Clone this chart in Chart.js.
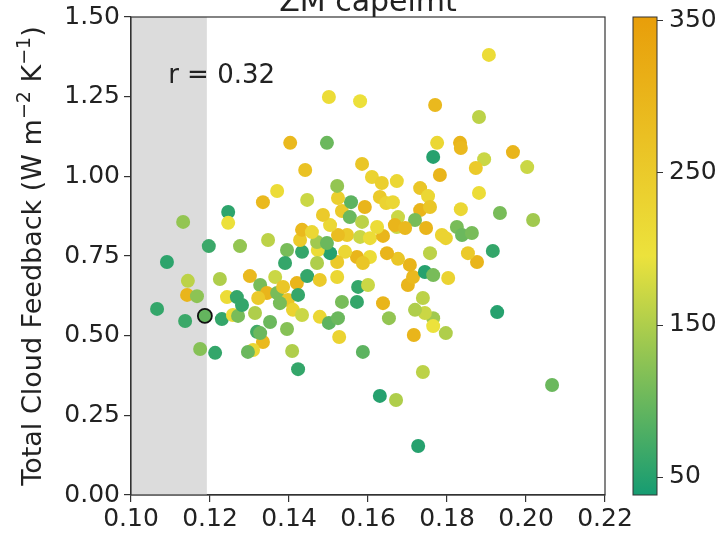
<!DOCTYPE html>
<html>
<head>
<meta charset="utf-8">
<script src="https://cdn.jsdelivr.net/npm/chart.js@4.4.0/dist/chart.umd.min.js"></script>
<style>
  body { margin: 0; background: #fff; }
  canvas { display: block; }
</style>
</head>
<body>
<canvas id="capelmtChart" width="725" height="536"></canvas>
<script>
// scatter values (x, total cloud feedback, colour value)
var xVals = [0.1066, 0.1091, 0.1132, 0.1144, 0.1142, 0.1167, 0.1137, 0.1175, 0.1213, 0.1197,
  0.1246, 0.1246, 0.1225, 0.1230, 0.1258, 0.1271, 0.1243, 0.1268, 0.1281, 0.1276,
  0.1301, 0.1314, 0.1327, 0.1344, 0.1370, 0.1365, 0.1385, 0.1420, 0.1322, 0.1397,
  0.1423, 0.1377, 0.1410, 0.1433, 0.1478, 0.1501, 0.1524, 0.1534, 0.1572, 0.1575,
  0.1600, 0.1638, 0.1653, 0.1352, 0.1395, 0.1319, 0.1334, 0.1309, 0.1296, 0.1327,
  0.1408, 0.1423, 0.1527, 0.1587, 0.1630, 0.1671, 0.1727, 0.2066, 0.1927, 0.1739,
  0.1716, 0.1797, 0.1765, 0.1765, 0.1744, 0.1719, 0.1739, 0.1701, 0.1714, 0.1706,
  0.1744, 0.1765, 0.1803, 0.1876, 0.1853, 0.1916, 0.1757, 0.1676, 0.1648, 0.1605,
  0.1572, 0.1587, 0.1542, 0.1522, 0.1504, 0.1473, 0.1471, 0.1433, 0.1395, 0.1390,
  0.1446, 0.1478, 0.1522, 0.1347, 0.1428, 0.1471, 0.1496, 0.1547, 0.1524, 0.1580,
  0.1605, 0.1638, 0.1673, 0.1433, 0.1458, 0.1504, 0.1486, 0.1534, 0.1554, 0.1585,
  0.1557, 0.1524, 0.1592, 0.1630, 0.1646, 0.1610, 0.1635, 0.1673, 0.1522, 0.1446,
  0.1370, 0.1334, 0.1441, 0.1585, 0.1403, 0.1496, 0.1501, 0.1580, 0.1770, 0.1881,
  0.1906, 0.1775, 0.1833, 0.1835, 0.1967, 0.1765, 0.1894, 0.1873, 0.2003, 0.1782,
  0.1732, 0.1752, 0.1881, 0.1663, 0.1732, 0.1757, 0.1676, 0.1719, 0.1835, 0.1934,
  0.2018, 0.1668, 0.1694, 0.1747, 0.1825, 0.1838, 0.1863, 0.1787, 0.1797, 0.1623];
var yVals = [0.584, 0.731, 0.857, 0.672, 0.628, 0.624, 0.546, 0.458, 0.446, 0.781,
  0.888, 0.854, 0.678, 0.552, 0.565, 0.562, 0.621, 0.621, 0.596, 0.781,
  0.687, 0.571, 0.659, 0.634, 0.634, 0.684, 0.653, 0.665, 0.618, 0.612,
  0.628, 0.602, 0.581, 0.565, 0.559, 0.540, 0.555, 0.606, 0.606, 0.653,
  0.659, 0.602, 0.555, 0.543, 0.521, 0.512, 0.480, 0.455, 0.449, 0.508,
  0.452, 0.395, 0.496, 0.449, 0.311, 0.298, 0.154, 0.345, 0.574, 0.386,
  0.502, 0.508, 0.555, 0.530, 0.571, 0.581, 0.618, 0.659, 0.684, 0.722,
  0.700, 0.690, 0.681, 0.731, 0.759, 0.766, 0.759, 0.741, 0.759, 0.747,
  0.747, 0.728, 0.763, 0.731, 0.759, 0.769, 0.728, 0.763, 0.769, 0.728,
  0.687, 0.675, 0.684, 0.800, 0.800, 0.794, 0.791, 0.816, 0.816, 0.810,
  0.806, 0.813, 0.841, 0.832, 0.825, 0.847, 0.879, 0.891, 0.872, 0.857,
  0.919, 0.932, 0.904, 0.935, 0.916, 0.998, 0.979, 0.985, 0.970, 0.926,
  0.954, 0.919, 1.020, 1.039, 1.105, 1.105, 1.249, 1.236, 1.224, 1.186,
  1.381, 1.105, 1.105, 1.089, 1.076, 1.061, 1.054, 1.026, 1.029, 1.004,
  0.963, 0.938, 0.948, 0.919, 0.894, 0.904, 0.872, 0.863, 0.897, 0.885,
  0.863, 0.847, 0.838, 0.838, 0.841, 0.816, 0.822, 0.816, 0.806, 0.841];
var cVals = [60, 55, 130, 160, 300, 125, 65, 120, 60, 65,
  55, 200, 150, 60, 210, 110, 210, 60, 60, 130,
  290, 150, 110, 300, 110, 170, 260, 300, 250, 260,
  60, 110, 230, 170, 220, 90, 100, 110, 60, 60,
  170, 300, 130, 100, 120, 70, 290, 220, 100, 100,
  150, 60, 230, 90, 50, 150, 50, 100, 50, 160,
  300, 150, 140, 195, 170, 150, 160, 300, 290, 300,
  50, 110, 230, 300, 250, 60, 160, 260, 300, 210,
  300, 260, 220, 250, 50, 210, 150, 60, 110, 60,
  60, 250, 220, 160, 250, 140, 100, 250, 280, 170,
  210, 300, 170, 290, 220, 220, 250, 250, 100, 160,
  90, 240, 300, 250, 230, 230, 240, 220, 130, 170,
  210, 290, 270, 260, 290, 100, 210, 200, 290, 160,
  210, 220, 300, 290, 300, 50, 170, 250, 170, 300,
  260, 220, 210, 220, 300, 260, 170, 110, 220, 110,
  140, 300, 290, 300, 110, 100, 110, 230, 230, 210];

// the circled model
var markedX = [0.1187];
var markedY = [0.562];
var markedC = [95];

var xTicks = [0.10, 0.12, 0.14, 0.16, 0.18, 0.20, 0.22];
var yTicks = [0.00, 0.25, 0.50, 0.75, 1.00, 1.25, 1.50];
var cbarTicks = [50, 150, 250, 350];
var cMin = 38, cMax = 352;
var shadeMax = 0.1192;
var rText = 'r = 0.32';
var rPos = [0.1094, 1.293];
var titleText = 'ZM capelmt';
// y label pieces: [text, superscript?]
var yLabelParts = [['Total Cloud Feedback (W m', false], ['\u22122', true], [' K', false], ['\u22121', true], [')', false]];

var font = 'DejaVu Sans';
var textColor = '#222';

// green -> yellow -> orange colour map
var cmapStops = [[0, [22, 156, 114]], [0.5, [236, 226, 60]], [1, [232, 158, 10]]];
function cmap(v) {
  var t = (v - cMin) / (cMax - cMin);
  t = Math.max(0, Math.min(1, t));
  var a = t <= 0.5 ? cmapStops[0] : cmapStops[1];
  var b = t <= 0.5 ? cmapStops[1] : cmapStops[2];
  var f = (t - a[0]) / (b[0] - a[0]);
  var rgb = a[1].map(function(c, i) { return Math.round(c + (b[1][i] - c) * f); });
  return 'rgb(' + rgb.join(',') + ')';
}

var points = xVals.map(function(x, i) { return {x: x, y: yVals[i]}; });
var marked = markedX.map(function(x, i) { return {x: x, y: markedY[i]}; });

var decorations = {
  id: 'decorations',
  beforeDatasetsDraw: function(chart) {
    var ctx = chart.ctx, a = chart.chartArea, xs = chart.scales.x;
    ctx.save();
    ctx.fillStyle = '#dcdcdc';
    var x0 = xs.getPixelForValue(xs.min);
    var x1 = xs.getPixelForValue(shadeMax);
    ctx.fillRect(x0, a.top, x1 - x0, a.bottom - a.top);
    ctx.restore();
  },
  afterDatasetsDraw: function(chart) {
    var ctx = chart.ctx, a = chart.chartArea;
    var xs = chart.scales.x, ys = chart.scales.y, cb = chart.scales.cbar;
    ctx.save();
    // box round the axes
    ctx.strokeStyle = '#333';
    ctx.lineWidth = 1.2;
    ctx.strokeRect(a.left, a.top, a.right - a.left, a.bottom - a.top);

    // correlation text
    ctx.fillStyle = textColor;
    ctx.font = '26px "' + font + '"';
    ctx.textAlign = 'left';
    ctx.textBaseline = 'alphabetic';
    ctx.fillText(rText, xs.getPixelForValue(rPos[0]), ys.getPixelForValue(rPos[1]));

    // title, cut off at the top like the original
    ctx.font = '30px "' + font + '"';
    ctx.textAlign = 'center';
    ctx.fillText(titleText, (a.left + a.right) / 2, 11);

    // y axis label with superscripts
    var big = '27px "' + font + '"', small = '19px "' + font + '"';
    var total = 0;
    yLabelParts.forEach(function(p) {
      ctx.font = p[1] ? small : big;
      total += ctx.measureText(p[0]).width;
    });
    ctx.translate(41, (a.top + a.bottom) / 2);
    ctx.rotate(-Math.PI / 2);
    ctx.textAlign = 'left';
    var pos = -total / 2;
    yLabelParts.forEach(function(p) {
      ctx.font = p[1] ? small : big;
      ctx.fillText(p[0], pos, p[1] ? -11 : 0);
      pos += ctx.measureText(p[0]).width;
    });
    ctx.setTransform(1, 0, 0, 1, 0, 0);

    // colour bar
    var bx = a.right + 28, bw = 24;
    var top = cb.getPixelForValue(cMax), bottom = cb.getPixelForValue(cMin);
    var grad = ctx.createLinearGradient(0, bottom, 0, top);
    cmapStops.forEach(function(s) {
      grad.addColorStop(s[0], 'rgb(' + s[1].join(',') + ')');
    });
    ctx.fillStyle = grad;
    ctx.fillRect(bx, top, bw, bottom - top);
    ctx.strokeStyle = '#333';
    ctx.lineWidth = 1;
    ctx.strokeRect(bx, top, bw, bottom - top);
    cbarTicks.forEach(function(v) {
      var py = Math.round(cb.getPixelForValue(v)) + 0.5;
      ctx.beginPath();
      ctx.moveTo(bx + bw, py);
      ctx.lineTo(bx + bw + 6, py);
      ctx.stroke();
    });
    ctx.restore();
  }
};

var tickFont = {family: font, size: 25, lineHeight: 1};

new Chart(document.getElementById('capelmtChart').getContext('2d'), {
  type: 'scatter',
  data: {
    datasets: [{
      data: marked,
      pointRadius: 7,
      pointBackgroundColor: markedC.map(cmap),
      pointBorderColor: '#111',
      pointBorderWidth: 1.8,
      order: 0
    }, {
      data: points,
      pointRadius: 7,
      pointBackgroundColor: cVals.map(cmap),
      pointBorderWidth: 0,
      order: 1
    }]
  },
  options: {
    responsive: false,
    animation: false,
    layout: { padding: { top: 17, left: 0, right: 0, bottom: 0 } },
    plugins: { legend: { display: false }, tooltip: { enabled: false } },
    scales: {
      x: {
        type: 'linear', min: 0.10, max: 0.22,
        afterBuildTicks: function(s) { s.ticks = xTicks.map(function(v) { return {value: v}; }); },
        afterFit: function(s) { s.height = 41; },
        grid: { display: true, drawOnChartArea: false, tickLength: 7, color: '#333', lineWidth: 1.2 },
        border: { display: true, color: '#333', width: 1.2 },
        ticks: { padding: 5, font: tickFont, color: textColor, maxRotation: 0,
          callback: function(v) { return v.toFixed(2); } }
      },
      y: {
        type: 'linear', min: 0, max: 1.5,
        afterBuildTicks: function(s) { s.ticks = yTicks.map(function(v) { return {value: v}; }); },
        afterFit: function(s) { s.width = 131; },
        grid: { display: true, drawOnChartArea: false, tickLength: 7, color: '#333', lineWidth: 1.2 },
        border: { display: true, color: '#333', width: 1.2 },
        ticks: { padding: 4, font: tickFont, color: textColor,
          callback: function(v) { return v.toFixed(2); } }
      },
      cbar: {
        type: 'linear', position: 'right', min: cMin, max: cMax,
        afterBuildTicks: function(s) { s.ticks = cbarTicks.map(function(v) { return {value: v}; }); },
        afterFit: function(s) { s.width = 120; },
        grid: { display: false, drawTicks: true, tickLength: 60 },
        border: { display: false },
        ticks: { padding: 4, font: tickFont, color: textColor }
      }
    }
  },
  plugins: [decorations]
});
</script>
</body>
</html>
